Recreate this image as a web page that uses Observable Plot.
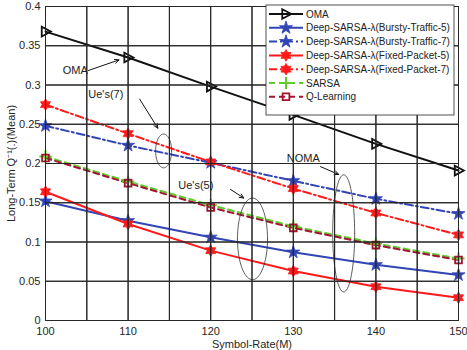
<!DOCTYPE html>
<html><head><meta charset="utf-8">
<script src="https://cdn.jsdelivr.net/npm/d3@7"></script>
<script src="https://cdn.jsdelivr.net/npm/@observablehq/plot@0.6"></script>
<style>body{margin:0;background:#fff;font-family:Arial,"Liberation Sans",sans-serif}</style>
</head><body><div id="chart"></div>
<script>
const symbolRate = [100, 110, 120, 130, 140, 150];
const oma      = [0.368, 0.335, 0.298, 0.262, 0.225, 0.191];
const bursty5  = [0.152, 0.127, 0.106, 0.087, 0.071, 0.058];
const bursty7  = [0.248, 0.223, 0.201, 0.178, 0.155, 0.136];
const fixed5   = [0.164, 0.123, 0.089, 0.063, 0.043, 0.029];
const fixed7   = [0.275, 0.238, 0.202, 0.168, 0.137, 0.109];
const sarsa    = [0.209, 0.177, 0.147, 0.120, 0.098, 0.079];
const qlearn   = [0.207, 0.175, 0.144, 0.118, 0.096, 0.077];
const seriesNames = ["OMA", "Deep-SARSA-λ(Bursty-Traffic-5)", "Deep-SARSA-λ(Bursty-Traffic-7)",
  "Deep-SARSA-λ(Fixed-Packet-5)", "Deep-SARSA-λ(Fixed-Packet-7)", "SARSA", "Q-Learning"];
const xTicks = [100, 110, 120, 130, 140, 150];
const xGrid = [100, 105, 110, 115, 120, 125, 130, 135, 140, 145, 150];
const yTicks = [0, 0.05, 0.1, 0.15, 0.2, 0.25, 0.3, 0.35, 0.4];
// annotations (data coordinates)
const annoTexts = [
  {x: 103.6, y: 0.3185, t: "OMA"},
  {x: 107.3, y: 0.288, t: "Ue's(7)"},
  {x: 118.2, y: 0.172, t: "Ue's(5)"},
  {x: 131.2, y: 0.206, t: "NOMA"}
];
const annoArrows = [
  {x1: 105.2, y1: 0.3185, x2: 108.9, y2: 0.332},
  {x1: 111.4, y1: 0.282, x2: 113.6, y2: 0.245},
  {x1: 122.4, y1: 0.167, x2: 124.0, y2: 0.156},
  {x1: 133.3, y1: 0.196, x2: 135.5, y2: 0.186}
];
const ellipses = [
  {cx: 114.3, cy: 0.216, rx: 0.97, ry: 0.0215},
  {cx: 125.06, cy: 0.104, rx: 1.82, ry: 0.052},
  {cx: 136.1, cy: 0.111, rx: 1.33, ry: 0.0746}
];

const blue = "#3145b5", red = "#ff1a1a", green = "#5fcc2a", dred = "#a2142f";

const hexagram = {draw(ctx, size) {
  const R = Math.sqrt(size) * 0.62, r = R * 0.58;
  for (let i = 0; i < 12; i++) {
    const a = -Math.PI / 2 + i * Math.PI / 6, rr = i % 2 ? r : R;
    const px = rr * Math.cos(a), py = rr * Math.sin(a);
    i ? ctx.lineTo(px, py) : ctx.moveTo(px, py);
  }
  ctx.closePath();
}};
const triRight = {draw(ctx, size) {
  const R = Math.sqrt(size) * 0.55;
  ctx.moveTo(R, 0); ctx.lineTo(-R * 0.7, -R * 0.9); ctx.lineTo(-R * 0.7, R * 0.9); ctx.closePath();
}};

const styles = [
  {vals: oma, color: "#111", dash: null, sym: triRight, d3sym: triRight, fill: "none", r: 5.5, sw: 1.8},
  {vals: bursty5, color: blue, dash: null, sym: "star", d3sym: d3.symbolStar, fill: blue, r: 4.1, sw: 0.8},
  {vals: bursty7, color: blue, dash: "8,3,2,3", sym: "star", d3sym: d3.symbolStar, fill: blue, r: 4.1, sw: 0.8},
  {vals: fixed5, color: red, dash: null, sym: hexagram, d3sym: hexagram, fill: red, r: 5.3, sw: 0.8},
  {vals: fixed7, color: red, dash: "8,3,2,3", sym: hexagram, d3sym: hexagram, fill: red, r: 5.3, sw: 0.8},
  {vals: sarsa, color: green, dash: "6,4", sym: "plus", d3sym: d3.symbolPlus, fill: "none", r: 4, sw: 2},
  {vals: qlearn, color: dred, dash: "6,4", sym: "square", d3sym: d3.symbolSquare, fill: "none", r: 3.8, sw: 1.8}
];

const marks = [
  Plot.ruleX(xGrid, {stroke: "#e3e3e3", strokeWidth: 1}),
  Plot.ruleY(yTicks, {stroke: "#e3e3e3", strokeWidth: 1})
];
styles.forEach((s) => {
  const data = symbolRate.map((x, i) => ({x, y: s.vals[i]}));
  marks.push(Plot.line(data, {x: "x", y: "y", stroke: s.color, strokeWidth: 2, strokeDasharray: s.dash}));
});
styles.forEach((s) => {
  const data = symbolRate.map((x, i) => ({x, y: s.vals[i]}));
  marks.push(Plot.dot(data, {x: "x", y: "y", symbol: () => s.sym, r: s.r, stroke: s.color, fill: s.fill, strokeWidth: s.sw}));
});
ellipses.forEach(e => {
  const pts = d3.range(0, 73).map(i => {
    const a = i / 72 * 2 * Math.PI;
    return {x: e.cx + e.rx * Math.cos(a), y: e.cy + e.ry * Math.sin(a)};
  });
  marks.push(Plot.line(pts, {x: "x", y: "y", stroke: "#333", strokeWidth: 0.8}));
});
marks.push(Plot.arrow(annoArrows, {x1: "x1", y1: "y1", x2: "x2", y2: "y2", stroke: "#111", strokeWidth: 1, headLength: 7, headAngle: 50}));
marks.push(Plot.text(annoTexts, {x: "x", y: "y", text: "t", fontSize: 11, fill: "#222"}));
marks.push(Plot.tickX(xGrid, {x: d => d, y1: 0, y2: 0.005, stroke: "#262626"}));
marks.push(Plot.tickX(xGrid, {x: d => d, y1: 0.4, y2: 0.395, stroke: "#262626"}));
marks.push(Plot.tickY(yTicks, {y: d => d, x1: 100, x2: 100.6, stroke: "#262626"}));
marks.push(Plot.tickY(yTicks, {y: d => d, x1: 150, x2: 149.4, stroke: "#262626"}));
marks.push(Plot.frame({stroke: "#262626", strokeWidth: 1}));
marks.push(Plot.axisX(xTicks, {tickSize: 0, tickPadding: 7, fontSize: 11, label: "Symbol-Rate(M)", labelAnchor: "center", labelArrow: "none", labelOffset: 27}));
marks.push(Plot.axisY(yTicks, {tickSize: 0, tickPadding: 5, fontSize: 11, tickFormat: d3.format("~g"), label: "Long-Term Q⁻¹(.)(Mean)", labelAnchor: "center", labelArrow: "none", labelOffset: 38}));

const chart = Plot.plot({
  width: 467, height: 350,
  marginLeft: 45, marginRight: 9, marginTop: 6, marginBottom: 30,
  style: {fontFamily: "Arial, 'Liberation Sans', sans-serif", fontSize: "11px", color: "#262626", background: "white"},
  x: {domain: [100, 150]},
  y: {domain: [0, 0.4]},
  marks
});
document.getElementById("chart").appendChild(chart);

// legend
const svg = d3.select(chart);
const lg = svg.append("g").attr("transform", "translate(266,5)");
lg.append("rect").attr("width", 188).attr("height", 110).attr("fill", "white").attr("stroke", "#262626").attr("stroke-width", 0.8);
styles.forEach((s, k) => {
  const yy = 9 + k * 13.8;
  const row = lg.append("g").attr("transform", `translate(0,${yy})`);
  row.append("line").attr("x1", 3).attr("x2", 37).attr("y1", 0).attr("y2", 0)
    .attr("stroke", s.color).attr("stroke-width", 2).attr("stroke-dasharray", s.dash);
  row.append("path").attr("transform", "translate(20,0)").attr("d", d3.symbol(s.d3sym, Math.PI * s.r * s.r)())
    .attr("fill", s.fill).attr("stroke", s.color).attr("stroke-width", s.sw);
  row.append("text").attr("x", 40).attr("y", 0).attr("dy", "0.35em").attr("text-anchor", "start")
    .attr("font-size", 10).attr("fill", "#222").text(seriesNames[k]);
});
</script></body></html>
